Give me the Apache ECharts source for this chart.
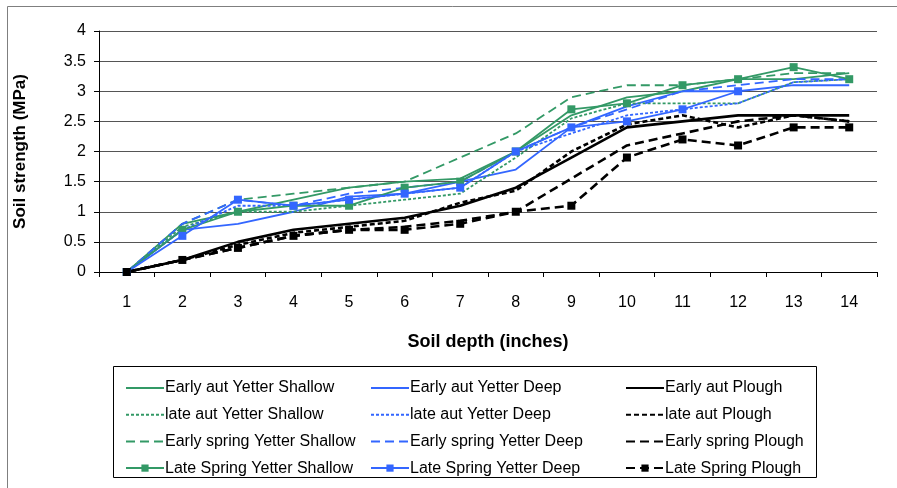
<!DOCTYPE html>
<html>
<head>
<meta charset="utf-8">
<script src="https://cdn.jsdelivr.net/npm/echarts@6/dist/echarts.min.js"></script>
<style>
  html, body { margin: 0; padding: 0; background: #fff; }
  #chart { width: 897px; height: 488px; }
</style>
</head>
<body>
<div id="chart"></div>
<script>
// Soil depth categories (inches)
const depth = ['1','2','3','4','5','6','7','8','9','10','11','12','13','14'];

// Soil strength (MPa) by treatment
const earlyAutShallow    = [0, 0.8, 1.0, 1.2, 1.4, 1.5, 1.55, 2.0, 2.6, 2.9, 3.0, 3.2, 3.2, 3.3];
const earlyAutDeep       = [0, 0.7, 0.8, 1.0, 1.25, 1.3, 1.5, 1.7, 2.4, 2.75, 3.0, 3.0, 3.1, 3.1];
const earlyAutPlough     = [0, 0.2, 0.5, 0.7, 0.8, 0.9, 1.1, 1.4, 1.9, 2.4, 2.5, 2.6, 2.6, 2.6];
const lateAutShallow     = [0, 0.75, 1.0, 1.0, 1.1, 1.2, 1.3, 1.9, 2.55, 2.8, 2.8, 2.8, 3.15, 3.2];
const lateAutDeep        = [0, 0.7, 1.1, 1.1, 1.2, 1.3, 1.4, 2.0, 2.3, 2.6, 2.7, 2.8, 3.15, 3.2];
const lateAutPlough      = [0, 0.2, 0.45, 0.65, 0.75, 0.85, 1.15, 1.35, 2.0, 2.45, 2.6, 2.4, 2.6, 2.5];
const earlySpringShallow = [0, 0.8, 1.2, 1.3, 1.4, 1.5, 1.9, 2.3, 2.9, 3.1, 3.1, 3.2, 3.3, 3.3];
const earlySpringDeep    = [0, 0.8, 1.2, 1.1, 1.3, 1.4, 1.5, 2.0, 2.4, 2.7, 3.0, 3.1, 3.2, 3.2];
const earlySpringPlough  = [0, 0.2, 0.4, 0.6, 0.7, 0.75, 0.85, 1.0, 1.55, 2.1, 2.3, 2.5, 2.6, 2.5];
const lateSpringShallow  = [0, 0.7, 1.0, 1.1, 1.1, 1.4, 1.5, 2.0, 2.7, 2.8, 3.1, 3.2, 3.4, 3.2];
const lateSpringDeep     = [0, 0.6, 1.2, 1.1, 1.2, 1.3, 1.4, 2.0, 2.4, 2.5, 2.7, 3.0, null, null];
const lateSpringPlough   = [0, 0.2, 0.4, 0.6, 0.7, 0.7, 0.8, 1.0, 1.1, 1.9, 2.2, 2.1, 2.4, 2.4];

const GREEN = '#339966';
const BLUE = '#3366ff';
const BLACK = '#000000';
const FONT = 'Liberation Sans, Arial, sans-serif';

const SHORT = [3, 2];
const LONG = [9, 5];

function line(name, data, color, width, dash, marker) {
  return {
    name: name,
    type: 'line',
    data: data,
    symbol: marker ? 'rect' : 'none',
    symbolSize: marker ? 8 : 0,
    showSymbol: !!marker,
    connectNulls: false,
    animation: false,
    itemStyle: { color: color },
    lineStyle: { color: color, width: width, type: dash || 'solid' },
    emphasis: { disabled: true }
  };
}

const series = [
  line('Early aut Yetter Shallow', earlyAutShallow, GREEN, 1.8),
  line('Early aut Yetter Deep', earlyAutDeep, BLUE, 1.8),
  line('Early aut Plough', earlyAutPlough, BLACK, 2.6),
  line('late aut Yetter Shallow', lateAutShallow, GREEN, 1.8, SHORT),
  line('late aut Yetter Deep', lateAutDeep, BLUE, 1.8, SHORT),
  line('late aut Plough', lateAutPlough, BLACK, 2.6, [5, 3]),
  line('Early spring Yetter Shallow', earlySpringShallow, GREEN, 1.8, LONG),
  line('Early spring Yetter Deep', earlySpringDeep, BLUE, 1.8, LONG),
  line('Early spring Plough', earlySpringPlough, BLACK, 2.6, LONG),
  line('Late Spring Yetter Shallow', lateSpringShallow, GREEN, 1.8, null, true),
  line('Late Spring Yetter Deep', lateSpringDeep, BLUE, 1.8, null, true),
  line('Late Spring Plough', lateSpringPlough, BLACK, 2.6, LONG, true)
];

// Legend entries: line-only series hide the legend symbol, marker series keep it
function entry(name, marker) {
  return marker
    ? { name: name }
    : { name: name, itemStyle: { opacity: 0 } };
}

function legendColumn(left, names) {
  return {
    orient: 'vertical',
    left: left,
    top: 374,
    itemWidth: 38,
    itemHeight: 9,
    itemGap: 8.7,
    selectedMode: false,
    data: names.map(function (n, i) { return entry(n, i === 3); }),
    textStyle: { fontSize: 16, lineHeight: 18, fontFamily: FONT, color: '#000', padding: [0, 0, 0, -4] }
  };
}

const chart = echarts.init(document.getElementById('chart'), null, { renderer: 'canvas' });
chart.setOption({
  backgroundColor: '#fff',
  animation: false,
  grid: { left: 99, right: 20, top: 31, bottom: 216 },
  graphic: [
    { type: 'rect', shape: { x: 7.5, y: 6.5, width: 900, height: 490 },
      style: { fill: 'none', stroke: '#7f7f7f', lineWidth: 1 }, silent: true },
    { type: 'rect', shape: { x: 113.5, y: 366.5, width: 703, height: 111 },
      style: { fill: 'none', stroke: '#000', lineWidth: 1 }, silent: true }
  ],
  legend: [
    legendColumn(120, ['Early aut Yetter Shallow', 'late aut Yetter Shallow', 'Early spring Yetter Shallow', 'Late Spring Yetter Shallow']),
    legendColumn(365, ['Early aut Yetter Deep', 'late aut Yetter Deep', 'Early spring Yetter Deep', 'Late Spring Yetter Deep']),
    legendColumn(620, ['Early aut Plough', 'late aut Plough', 'Early spring Plough', 'Late Spring Plough'])
  ],
  xAxis: {
    type: 'category',
    data: depth,
    boundaryGap: true,
    name: 'Soil depth (inches)',
    nameLocation: 'middle',
    nameGap: 61,
    nameTextStyle: { fontSize: 18, fontWeight: 'bold', fontFamily: FONT, color: '#000' },
    axisLine: { lineStyle: { color: '#000', width: 1 } },
    axisTick: { show: true, inside: false, length: 5, lineStyle: { color: '#000' } },
    axisLabel: { fontSize: 16, fontFamily: FONT, color: '#000', margin: 23 },
    splitLine: { show: false }
  },
  yAxis: {
    type: 'value',
    min: 0,
    max: 4,
    interval: 0.5,
    name: 'Soil strength (MPa)',
    nameLocation: 'middle',
    nameGap: 70,
    nameTextStyle: { fontSize: 17, fontWeight: 'bold', fontFamily: FONT, color: '#000' },
    axisLine: { show: true, lineStyle: { color: '#000', width: 1 } },
    axisTick: { show: true, inside: false, length: 5, lineStyle: { color: '#000' } },
    axisLabel: { fontSize: 16, fontFamily: FONT, color: '#000', margin: 13 },
    splitLine: { show: true, lineStyle: { color: '#555', width: 1 } }
  },
  series: series
});
</script>
</body>
</html>
